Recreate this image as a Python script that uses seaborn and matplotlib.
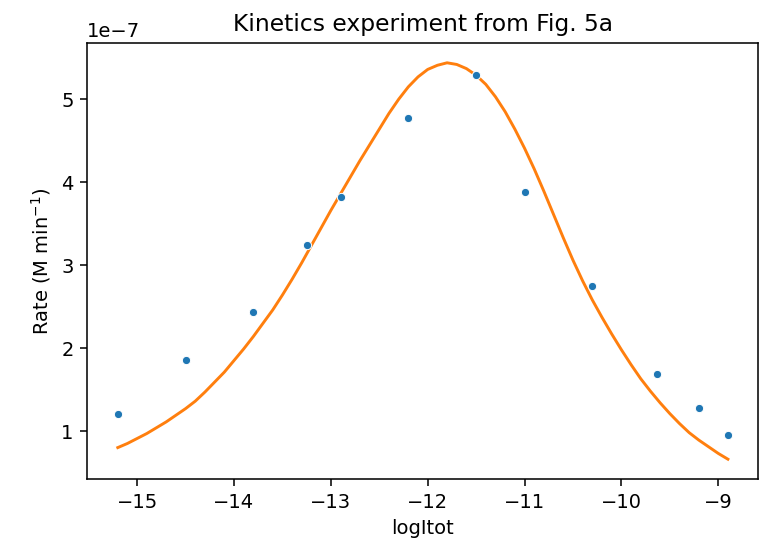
import matplotlib
matplotlib.use("Agg")
import matplotlib.pyplot as plt
import seaborn as sns
import numpy as np
import pandas as pd

# Experimental points (log10 of total concentration, rate in units of 1e-7 M/min)
log_itot = [-15.2, -14.5, -13.8, -13.25, -12.9, -12.2, -11.5, -11.0, -10.3, -9.63, -9.2, -8.9]
rate = [1.21, 1.86, 2.44, 3.24, 3.82, 4.77, 5.29, 3.88, 2.75, 1.69, 1.28, 0.95]

# Fitted curve (units of 1e-7)
fit_x = [-15.2, -15.1, -15.0, -14.9, -14.8, -14.7, -14.6, -14.5, -14.4, -14.3,
         -14.2, -14.1, -14.0, -13.9, -13.8, -13.7, -13.6, -13.5, -13.4, -13.3,
         -13.2, -13.1, -13.0, -12.9, -12.8, -12.7, -12.6, -12.5, -12.4, -12.3,
         -12.2, -12.1, -12.0, -11.9, -11.8, -11.7, -11.6, -11.5, -11.4, -11.3,
         -11.2, -11.1, -11.0, -10.9, -10.8, -10.7, -10.6, -10.5, -10.4, -10.3,
         -10.2, -10.1, -10.0, -9.9, -9.8, -9.7, -9.6, -9.5, -9.4, -9.3,
         -9.2, -9.1, -9.0, -8.9]
fit_y = [0.80, 0.85, 0.91, 0.97, 1.04, 1.11, 1.19, 1.27, 1.36, 1.47,
         1.59, 1.71, 1.85, 1.99, 2.14, 2.30, 2.46, 2.64, 2.83, 3.03,
         3.24, 3.45, 3.66, 3.86, 4.06, 4.26, 4.45, 4.64, 4.83, 5.00,
         5.15, 5.27, 5.36, 5.41, 5.44, 5.42, 5.37, 5.29, 5.18, 5.03,
         4.85, 4.64, 4.41, 4.16, 3.89, 3.61, 3.33, 3.06, 2.81, 2.58,
         2.37, 2.17, 1.98, 1.80, 1.63, 1.48, 1.34, 1.21, 1.09, 0.98,
         0.89, 0.81, 0.73, 0.66]

scale = 1e-7
df_pts = pd.DataFrame({"logItot": log_itot, "rate": np.array(rate) * scale})
df_fit = pd.DataFrame({"logItot": fit_x, "rate": np.array(fit_y) * scale})

dpi = 140
fig, ax = plt.subplots(figsize=(763 / dpi, 542 / dpi), dpi=dpi)
fig.subplots_adjust(left=0.1144, right=0.994, top=0.9207, bottom=0.1162)

sns.scatterplot(data=df_pts, x="logItot", y="rate", ax=ax, color="C0", s=18,
                edgecolor="white", linewidth=0.5, zorder=3)
sns.lineplot(data=df_fit, x="logItot", y="rate", ax=ax, color="C1", linewidth=1.5)

ax.set_title("Kinetics experiment from Fig. 5a")
ax.set_xlabel("logItot")
ax.set_ylabel("Rate (M min$^{-1}$)")

fig.savefig("out.png", dpi=dpi)
